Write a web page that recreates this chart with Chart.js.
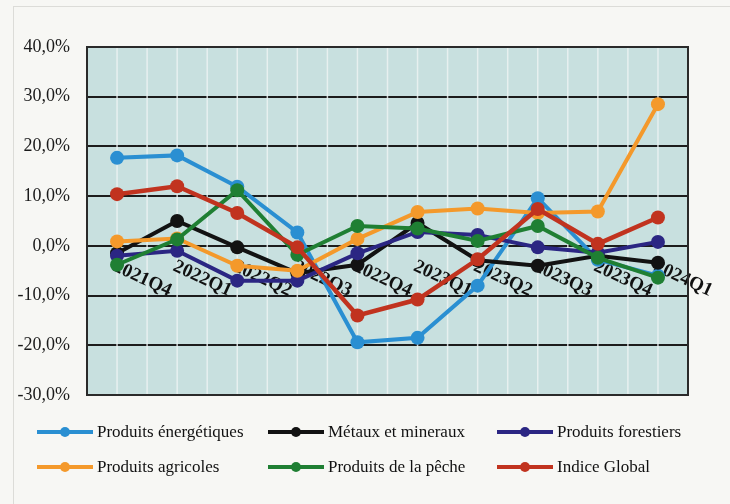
<!DOCTYPE html>
<html>
<head>
<meta charset="utf-8">
<script src="https://cdn.jsdelivr.net/npm/chart.js@4.4.1/dist/chart.umd.min.js"></script>
<style>
  body { margin: 0; background: #f7f7f4; }
  #wrap { position: relative; width: 730px; height: 504px; overflow: hidden; }
  #frame { position: absolute; left: 13px; top: 6px; width: 720px; height: 520px;
           border-left: 1px solid #dcdcd8; border-top: 1px solid #dcdcd8; }
  canvas { position: absolute; left: 0; top: 0; }
  .item { position: absolute; font: 17px "Liberation Serif", serif; color: #111;
          white-space: nowrap; display: flex; align-items: center; height: 20px; }
  .swatch { position: relative; width: 56px; height: 4px; margin-right: 4px; }
  .swatch i { position: absolute; left: 23px; top: -3px; width: 10px; height: 10px; border-radius: 50%; }
</style>
</head>
<body>
<div id="wrap">
  <div id="frame"></div>
  <canvas id="chart" width="730" height="504"></canvas>
  <div id="legend"></div>
</div>
<script>
var quarters = ['2021Q4', '2022Q1', '2022Q2', '2022Q3', '2022Q4', '2023Q1', '2023Q2', '2023Q3', '2023Q4', '2024Q1'];

var energetiques = [17.7, 18.2, 11.9, 2.7, -19.4, -18.5, -8.0, 9.6, -2.8, -6.0];
var metaux       = [-1.5, 5.0, -0.3, -5.5, -3.8, 4.6, -2.9, -4.0, -2.0, -3.4];
var forestiers   = [-2.0, -1.0, -7.0, -7.0, -1.5, 2.8, 2.2, -0.3, -1.4, 0.8];
var agricoles    = [0.9, 1.5, -4.0, -5.0, 1.4, 6.8, 7.5, 6.6, 6.9, 28.5];
var peche        = [-3.8, 1.3, 11.2, -1.8, 4.0, 3.5, 1.0, 4.0, -2.4, -6.4];
var indiceGlobal = [10.4, 12.0, 6.6, -0.3, -14.0, -10.8, -2.7, 7.4, 0.4, 5.7];

var names = ['Produits énergétiques', 'Métaux et mineraux', 'Produits forestiers',
             'Produits agricoles', 'Produits de la pêche', 'Indice Global'];
var series = [energetiques, metaux, forestiers, agricoles, peche, indiceGlobal];
var colors = ['#2a8fd2', '#121212', '#2b2683', '#f4992b', '#1f7f33', '#c1331f'];

var yTicks = [-30, -20, -10, 0, 10, 20, 30, 40];

function pct(v) {
  return v.toFixed(1).replace('.', ',') + '%';
}

// background, light vertical grid, rotated quarter labels and the frame
var plotDecor = {
  id: 'plotDecor',
  beforeDraw: function(chart) {
    var a = chart.chartArea, ctx = chart.ctx;
    ctx.save();
    ctx.fillStyle = '#c8e0df';
    ctx.fillRect(a.left, a.top, a.right - a.left, a.bottom - a.top);
    ctx.restore();
  },
  beforeDatasetsDraw: function(chart) {
    var a = chart.chartArea, ctx = chart.ctx;
    var xs = chart.scales.x, ys = chart.scales.y;
    var half = (xs.getPixelForValue(1) - xs.getPixelForValue(0)) / 2;
    ctx.save();
    ctx.strokeStyle = 'rgba(236,242,242,0.85)';
    ctx.lineWidth = 1.5;
    for (var i = 0; i < quarters.length; i++) {
      var c = xs.getPixelForValue(i);
      [c - half, c].forEach(function(px) {
        ctx.beginPath();
        ctx.moveTo(px, a.top);
        ctx.lineTo(px, a.bottom);
        ctx.stroke();
      });
    }
    // quarter labels hang from the zero line
    var y0 = ys.getPixelForValue(0);
    ctx.fillStyle = '#111';
    ctx.font = 'bold 19px "Liberation Serif", serif';
    ctx.textAlign = 'left';
    ctx.textBaseline = 'top';
    quarters.forEach(function(q, i) {
      ctx.save();
      ctx.translate(xs.getPixelForValue(i) + 1, y0 + 11);
      ctx.rotate(25 * Math.PI / 180);
      ctx.fillText(q, 0, 0);
      ctx.restore();
    });
    ctx.restore();
  },
  afterDatasetsDraw: function(chart) {
    var a = chart.chartArea, ctx = chart.ctx;
    ctx.save();
    ctx.strokeStyle = '#2a2a2a';
    ctx.lineWidth = 2;
    ctx.strokeRect(a.left, a.top, a.right - a.left, a.bottom - a.top);
    ctx.restore();
  }
};

var datasets = series.map(function(vals, i) {
  return {
    label: names[i],
    data: vals,
    borderColor: colors[i],
    backgroundColor: colors[i],
    pointBackgroundColor: colors[i],
    pointBorderWidth: 0,
    pointRadius: 7,
    borderWidth: i == 5 ? 4.5 : 4,
    tension: 0,
    order: series.length - i
  };
});

new Chart(document.getElementById('chart'), {
  type: 'line',
  data: { labels: quarters, datasets: datasets },
  plugins: [plotDecor],
  options: {
    responsive: false,
    animation: false,
    devicePixelRatio: 1,
    layout: { padding: { left: 0, right: 42, top: 47, bottom: 109 } },
    plugins: { legend: { display: false }, tooltip: { enabled: false } },
    scales: {
      x: { type: 'category', offset: true, display: false },
      y: {
        min: yTicks[0],
        max: yTicks[yTicks.length - 1],
        afterBuildTicks: function(s) { s.ticks = yTicks.map(function(v) { return { value: v }; }); },
        afterFit: function(s) { s.width = 87; },
        ticks: {
          padding: 17,
          color: '#1a1a1a',
          font: { family: '"Liberation Serif", serif', size: 18 },
          callback: function(v) { return pct(v); }
        },
        grid: { color: '#1c1c1c', lineWidth: 2, drawTicks: false },
        border: { display: true, color: '#2a2a2a', width: 2 }
      }
    }
  }
});

// legend laid out as two rows of three, like the original
var legendPos = [[37, 422], [268, 422], [497, 422], [37, 457], [268, 457], [497, 457]];
var legend = document.getElementById('legend');
names.forEach(function(n, i) {
  var d = document.createElement('div');
  d.className = 'item';
  d.style.left = legendPos[i][0] + 'px';
  d.style.top = legendPos[i][1] + 'px';
  d.innerHTML = '<span class="swatch" style="background:' + colors[i] + '"><i style="background:' +
    colors[i] + '"></i></span>' + n;
  legend.appendChild(d);
});
</script>
</body>
</html>
